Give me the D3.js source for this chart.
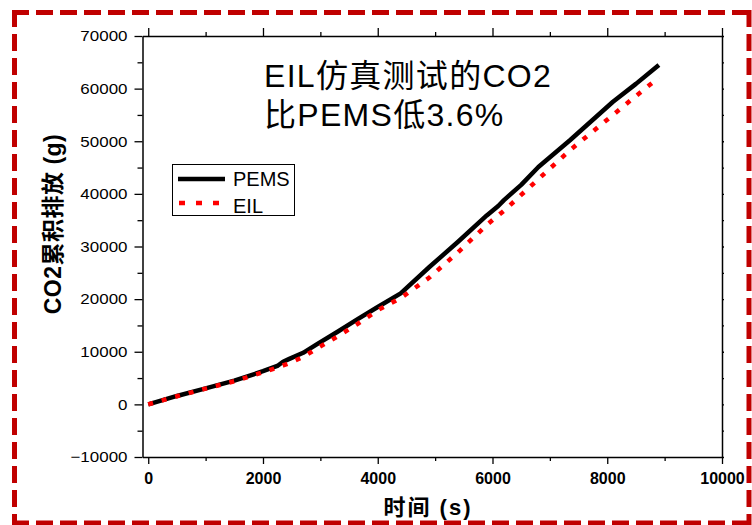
<!DOCTYPE html>
<html>
<head>
<meta charset="utf-8">
<script src="https://cdn.jsdelivr.net/npm/d3@7"></script>
<style>
  html, body { margin: 0; padding: 0; background: #fff; }
  svg { display: block; font-family: "Liberation Sans", Arial, "Noto Sans CJK SC", sans-serif; }
</style>
</head>
<body>
<svg id="chart" width="752" height="525"></svg>
<script>
// Cumulative CO2 emission over time (s -> g)
const timeS   = [0, 500, 1000, 1500, 2000, 2250, 2350, 2450, 2700, 2950, 3300, 3650, 4000, 4400, 4900, 5400, 5900, 6100, 6200, 6500, 6800, 7350, 8100, 8500, 8900];
const pemsCO2 = [0, 1600, 3050, 4500, 6300, 7300, 8100, 8600, 9800, 11500, 13800, 16200, 18500, 21100, 26100, 30900, 35900, 37700, 38800, 41700, 45100, 50200, 57500, 60900, 64500];
const eilCO2  = [0, 1550, 3000, 4400, 6100, 7000, 7400, 7800, 9000, 10700, 12900, 15300, 17900, 20200, 24100, 28900, 34100, 35900, 36800, 39800, 42800, 48300, 55000, 58600, 62100];

const xTicks = [0, 2000, 4000, 6000, 8000, 10000];
const xMinorTicks = [1000, 3000, 5000, 7000, 9000];
const yTicks = [-10000, 0, 10000, 20000, 30000, 40000, 50000, 60000, 70000];
const yMinorTicks = [-5000, 5000, 15000, 25000, 35000, 45000, 55000, 65000];

const seriesNames = ["PEMS", "EIL"];
const noteLines = ["EIL仿真测试的CO2", "比PEMS低3.6%"];
const xTitle = "时间 (s)";
const yTitle = "CO2累积排放 (g)";

const svg = d3.select("#chart");
const plot = { left: 142.5, right: 722, top: 36, bottom: 457 };

const x = d3.scaleLinear().domain([-100, 10000]).range([plot.left, plot.right]);
const y = d3.scaleLinear().domain([-10000, 70000]).range([plot.bottom, plot.top]);

function styleAxis(g) {
  g.selectAll(".domain").attr("stroke", "#000").attr("stroke-width", 1.5);
  g.selectAll(".tick line").attr("stroke", "#000").attr("stroke-width", 1.3);
}

// bottom axis
const gx = svg.append("g").attr("transform", `translate(0,${plot.bottom})`)
  .call(d3.axisBottom(x).tickValues(xTicks).tickSize(7).tickSizeOuter(0).tickPadding(9).tickFormat(d3.format("d")));
styleAxis(gx);
gx.selectAll("text").attr("font-size", 16).attr("font-weight", "bold").attr("fill", "#000")
  .attr("font-family", "'Liberation Sans', Arial, sans-serif");
svg.append("g").attr("transform", `translate(0,${plot.bottom})`)
  .call(d3.axisBottom(x).tickValues(xMinorTicks).tickSize(4).tickFormat(""))
  .call(g => g.select(".domain").remove()).call(styleAxis);

// top axis
const gt = svg.append("g").attr("transform", `translate(0,${plot.top})`)
  .call(d3.axisTop(x).tickValues(xTicks).tickSize(8).tickSizeOuter(0).tickFormat(""));
styleAxis(gt);
svg.append("g").attr("transform", `translate(0,${plot.top})`)
  .call(d3.axisTop(x).tickValues(xMinorTicks).tickSize(4).tickFormat(""))
  .call(g => g.select(".domain").remove()).call(styleAxis);

// left axis
const gy = svg.append("g").attr("transform", `translate(${plot.left},0)`)
  .call(d3.axisLeft(y).tickValues(yTicks).tickSize(8).tickSizeOuter(0).tickFormat(d3.format("d")));
styleAxis(gy);
gy.selectAll("text").attr("font-size", 15).attr("fill", "#000")
  .attr("font-family", "'Liberation Sans', Arial, sans-serif")
  .attr("x", 0).attr("transform", "translate(-15,0) scale(1.13,1)");
svg.append("g").attr("transform", `translate(${plot.left},0)`)
  .call(d3.axisLeft(y).tickValues(yMinorTicks).tickSize(5).tickFormat(""))
  .call(g => g.select(".domain").remove()).call(styleAxis);

// right axis
const gr = svg.append("g").attr("transform", `translate(${plot.right},0)`)
  .call(d3.axisRight(y).tickValues(yTicks.concat(yMinorTicks)).tickSize(2).tickSizeOuter(0).tickFormat(""));
styleAxis(gr);

// series
const pemsData = timeS.map((t, i) => ({ t, v: pemsCO2[i] }));
const eilData = timeS.map((t, i) => ({ t, v: eilCO2[i] }));
const line = d3.line().x(d => x(d.t)).y(d => y(d.v));

svg.append("path").datum(pemsData).attr("d", line)
  .attr("fill", "none").attr("stroke", "#000").attr("stroke-width", 4.5)
  .attr("stroke-linejoin", "round");
svg.append("path").datum(eilData).attr("d", line)
  .attr("fill", "none").attr("stroke", "#ff0000").attr("stroke-width", 4.5)
  .attr("stroke-dasharray", "5,9");

// legend
const lg = svg.append("g");
lg.append("rect").attr("x", 172.5).attr("y", 164.5).attr("width", 122).attr("height", 51)
  .attr("fill", "#fff").attr("stroke", "#000").attr("stroke-width", 1);
lg.append("line").attr("x1", 178).attr("x2", 225).attr("y1", 179).attr("y2", 179)
  .attr("stroke", "#000").attr("stroke-width", 4.5);
lg.append("line").attr("x1", 179).attr("x2", 222).attr("y1", 203).attr("y2", 203)
  .attr("stroke", "#ff0000").attr("stroke-width", 4.5).attr("stroke-dasharray", "6,11");
lg.selectAll("text.lab").data(seriesNames).enter().append("text")
  .attr("x", 233).attr("y", (d, i) => 186 + i * 27)
  .attr("font-size", 20).attr("fill", "#000").text(d => d);

// annotation
svg.selectAll("text.note").data(noteLines).enter().append("text")
  .attr("class", "note").attr("x", 264).attr("y", (d, i) => 87 + i * 39)
  .attr("font-size", 32).attr("letter-spacing", 1.3).attr("fill", "#000").text(d => d);

// axis titles
svg.append("text").attr("x", 428).attr("y", 515).attr("text-anchor", "middle")
  .attr("font-size", 22).attr("font-weight", "bold").attr("letter-spacing", 2)
  .attr("fill", "#000").text(xTitle);
svg.append("text").attr("transform", "translate(61,224) rotate(-90)").attr("text-anchor", "middle")
  .attr("font-size", 23).attr("font-weight", "bold").attr("letter-spacing", 0.5)
  .attr("fill", "#000").text(yTitle);

// dashed red outer frame
const frame = svg.append("g").attr("stroke", "#C00000").attr("stroke-width", 5)
  .attr("stroke-dasharray", "17,7").attr("fill", "none");
frame.append("line").attr("x1", 12).attr("x2", 752).attr("y1", 12.5).attr("y2", 12.5);
frame.append("line").attr("x1", 14.5).attr("x2", 14.5).attr("y1", 10).attr("y2", 525);
frame.append("line").attr("x1", 749).attr("x2", 749).attr("y1", 10).attr("y2", 525);
frame.append("line").attr("x1", 12).attr("x2", 752).attr("y1", 523).attr("y2", 523);
</script>
</body>
</html>
